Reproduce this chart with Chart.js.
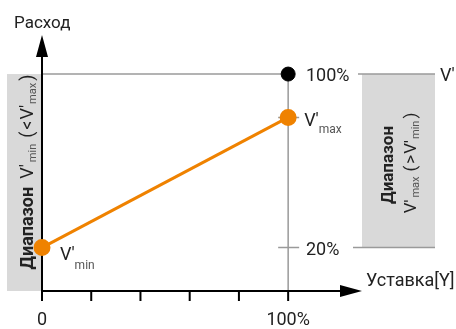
<!DOCTYPE html>
<html>
<head>
<meta charset="utf-8">
<script src="https://cdn.jsdelivr.net/npm/chart.js@4/dist/chart.umd.min.js"></script>
<style>
  body { margin: 0; background: #fff; }
  .wrap { width: 456px; height: 329px; position: relative; }
</style>
</head>
<body>
<div class="wrap"><canvas id="myChart"></canvas></div>
<script>
// setpoint Y (%) -> flow (%)
const setpoint = [0, 100];
const flow = [20, 80];
const nominalX = [100];
const nominalY = [100];
const xTicks = [0, 20, 40, 60, 80, 100];
const xTickLabels = { 0: "0", 100: "100%" };
const yMarks = [20, 80];
const yLabels = { 20: "20%", 100: "100%" };

const orange = "#ef8200";
const FONT = "Roboto, 'Liberation Sans', sans-serif";

// draws a line of text made of pieces, some of them subscripts
function richText(ctx, x, y, parts, rotate) {
  ctx.save();
  ctx.translate(x, y);
  if (rotate) ctx.rotate(-Math.PI / 2);
  let total = 0;
  parts.forEach((p) => {
    ctx.font = (p.bold ? "bold " : "") + p.size + "px " + FONT;
    p.w = ctx.measureText(p.t).width;
    total += p.w + (p.gap || 0);
  });
  let cx = rotate ? -total / 2 : 0;
  ctx.textBaseline = "alphabetic";
  ctx.textAlign = "left";
  parts.forEach((p) => {
    cx += p.gap || 0;
    ctx.font = (p.bold ? "bold " : "") + p.size + "px " + FONT;
    ctx.fillStyle = p.color || "#222";
    ctx.fillText(p.t, cx, p.dy || 0);
    cx += p.w;
  });
  ctx.restore();
}

const diagram = {
  id: "diagram",
  beforeDatasetsDraw(chart) {
    const ctx = chart.ctx;
    const xs = chart.scales.x, ys = chart.scales.y;
    const x0 = xs.getPixelForValue(0), x100 = xs.getPixelForValue(100);
    const y0 = ys.getPixelForValue(0), y100 = ys.getPixelForValue(100);
    const y20 = ys.getPixelForValue(20);
    const area = chart.chartArea;
    ctx.save();
    // grey range boxes
    ctx.fillStyle = "#d9d9d9";
    ctx.fillRect(7, y100, x0 - 7, y0 - y100);
    ctx.fillRect(362, y100, 435 - 362, y20 - y100);
    // guide lines
    ctx.strokeStyle = "#9a9a9a";
    ctx.lineWidth = 1.5;
    ctx.beginPath();
    ctx.moveTo(x0, y100); ctx.lineTo(x100, y100);
    ctx.moveTo(x100, y100); ctx.lineTo(x100, y0);
    ctx.moveTo(358, y100); ctx.lineTo(435, y100);
    ctx.moveTo(353, y20); ctx.lineTo(435, y20);
    yMarks.forEach((v) => {
      const yy = ys.getPixelForValue(v);
      ctx.moveTo(x100 - 10, yy); ctx.lineTo(x100 + 11, yy);
    });
    ctx.stroke();
    // axes
    ctx.strokeStyle = "#000";
    ctx.fillStyle = "#000";
    ctx.lineWidth = 2;
    ctx.beginPath();
    ctx.moveTo(x0, y0); ctx.lineTo(x0, area.top + 10);
    ctx.moveTo(x0, y0); ctx.lineTo(area.right - 10, y0);
    xTicks.forEach((v) => {
      const xx = xs.getPixelForValue(v);
      ctx.moveTo(xx, y0); ctx.lineTo(xx, y0 + 10);
    });
    ctx.stroke();
    ctx.beginPath();
    ctx.moveTo(x0, area.top); ctx.lineTo(x0 - 6, area.top + 22); ctx.lineTo(x0 + 6, area.top + 22);
    ctx.closePath();
    ctx.fill();
    ctx.beginPath();
    ctx.moveTo(area.right, y0); ctx.lineTo(area.right - 22, y0 - 6); ctx.lineTo(area.right - 22, y0 + 6);
    ctx.closePath();
    ctx.fill();
    ctx.restore();
  },
  afterDraw(chart) {
    const ctx = chart.ctx;
    const xs = chart.scales.x, ys = chart.scales.y;
    ctx.save();
    ctx.fillStyle = "#222";
    ctx.font = "17px " + FONT;
    ctx.textBaseline = "alphabetic";
    ctx.textAlign = "left";
    ctx.fillText("Расход", 14, 28);
    ctx.font = "18px " + FONT;
    ctx.fillText("Уставка[Y]", 366, 286);
    ctx.textAlign = "center";
    Object.keys(xTickLabels).forEach((k) => {
      ctx.fillText(xTickLabels[k], xs.getPixelForValue(+k), 325);
    });
    ctx.textAlign = "left";
    Object.keys(yLabels).forEach((k) => {
      ctx.fillText(yLabels[k], 306, ys.getPixelForValue(+k) + 7);
    });
    ctx.fillText("V'", 440, ys.getPixelForValue(100) + 7);
    ctx.restore();

    const pMin = chart.getDatasetMeta(0).data[0], pMax = chart.getDatasetMeta(0).data[1];
    richText(ctx, pMin.x + 18, pMin.y + 12, [
      { t: "V'", size: 18 },
      { t: "min", size: 12, dy: 9, color: "#555" },
    ]);
    richText(ctx, pMax.x + 16, pMax.y + 9, [
      { t: "V'", size: 18 },
      { t: "max", size: 12, dy: 7, color: "#555" },
    ]);
    // rotated range captions
    richText(ctx, 33, 172, [
      { t: "Диапазон", size: 18, bold: true },
      { t: "V'", size: 18, gap: 8 },
      { t: "min", size: 11, dy: 3, color: "#555", gap: 2 },
      { t: "(", size: 18, gap: 6 },
      { t: "<", size: 18, gap: 2 },
      { t: "V'", size: 18, gap: 1 },
      { t: "max", size: 11, dy: 3, color: "#555", gap: 1 },
      { t: ")", size: 18, gap: 2 },
    ], true);
    richText(ctx, 393, 165, [{ t: "Диапазон", size: 17, bold: true }], true);
    richText(ctx, 416, 163, [
      { t: "V'", size: 17 },
      { t: "max", size: 11, dy: 3, color: "#555", gap: 2 },
      { t: "(", size: 17, gap: 5 },
      { t: ">", size: 17, gap: 2 },
      { t: "V'", size: 17, gap: 1 },
      { t: "min", size: 11, dy: 3, color: "#555", gap: 1 },
      { t: ")", size: 17, gap: 2 },
    ], true);
  },
};

const ctx = document.getElementById("myChart").getContext("2d");
const myChart = new Chart(ctx, {
  type: "scatter",
  data: {
    datasets: [
      {
        label: "Расход",
        data: setpoint.map((x, i) => ({ x: x, y: flow[i] })),
        showLine: true,
        borderColor: orange,
        backgroundColor: orange,
        borderWidth: 3,
        pointRadius: 7,
        clip: false,
      },
      {
        label: "V'nom",
        data: nominalX.map((x, i) => ({ x: x, y: nominalY[i] })),
        backgroundColor: "#000",
        borderColor: "#000",
        pointRadius: 7,
        clip: false,
      },
    ],
  },
  options: {
    responsive: true,
    maintainAspectRatio: false,
    animation: false,
    layout: { padding: { left: 42, right: 94, top: 35, bottom: 38 } },
    plugins: { legend: { display: false }, tooltip: { enabled: false } },
    scales: {
      x: { type: "linear", min: 0, max: 130, display: false },
      y: { type: "linear", min: 0, max: 118, display: false },
    },
  },
  plugins: [diagram],
});
</script>
</body>
</html>
